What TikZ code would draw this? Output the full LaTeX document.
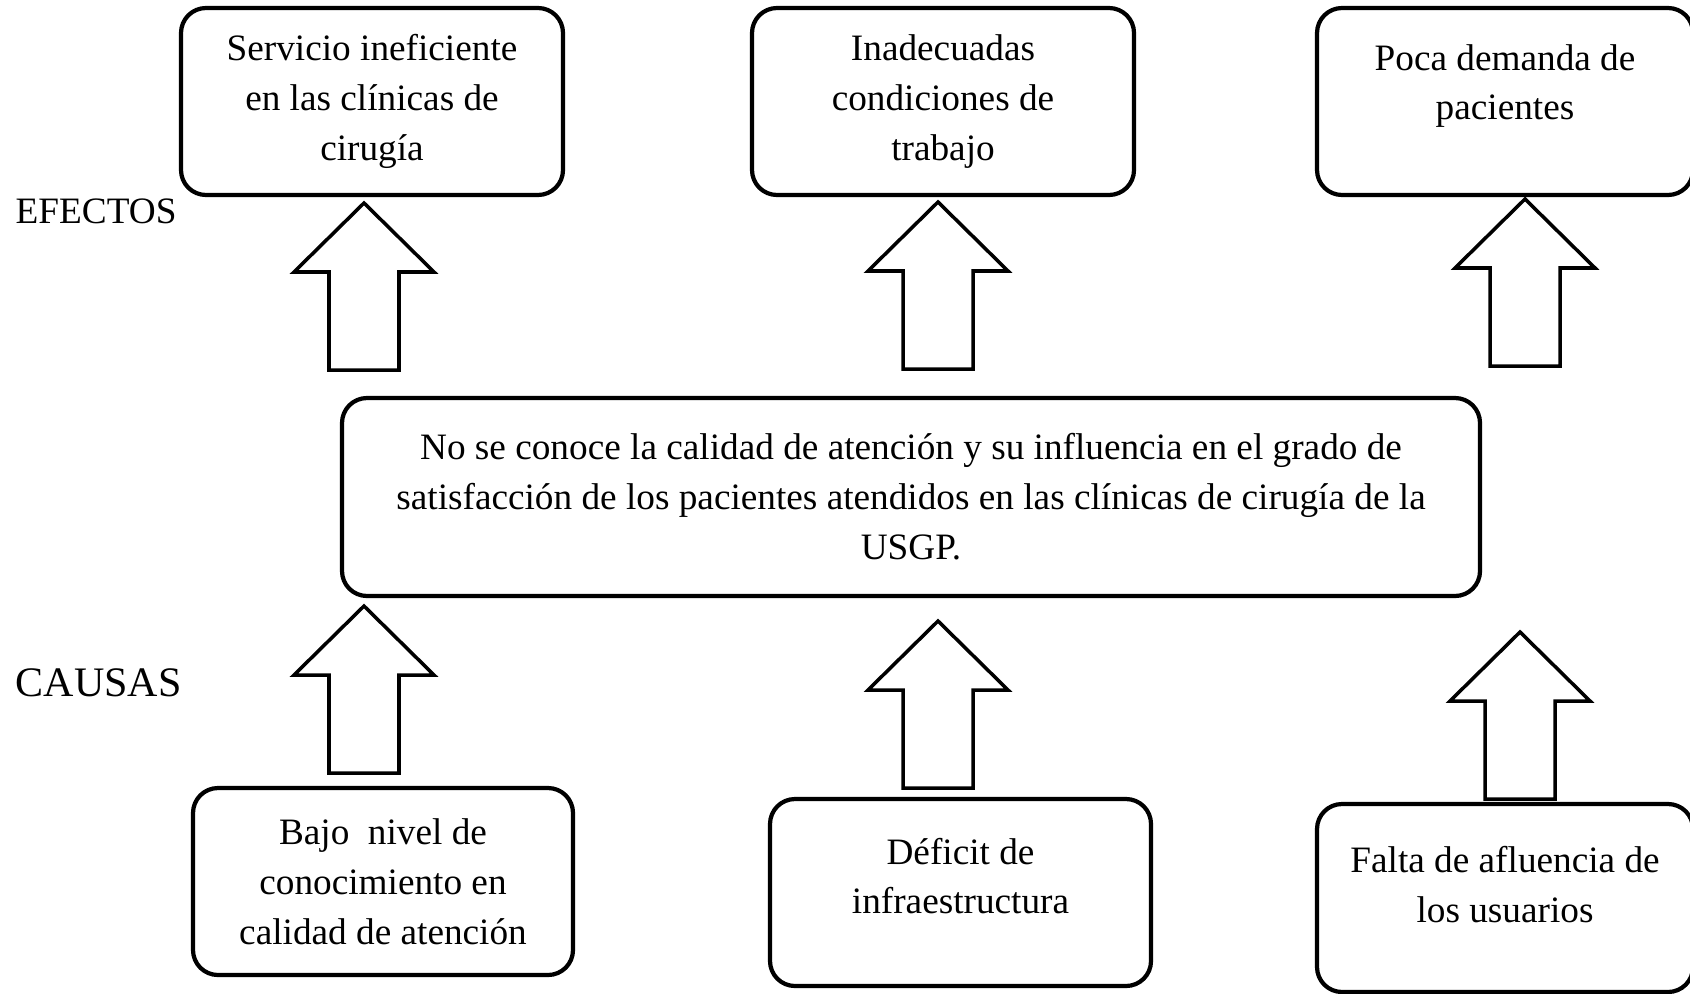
\documentclass[tikz,border=0pt]{standalone}
\usepackage{fontspec}
\setmainfont{Liberation Serif}
\tikzset{
    mybox/.style={draw, line width=1.2pt, rounded corners=0.25cm, minimum width=3.82cm, minimum height=1.87cm, align=center, font=\fontsize{10.6}{14.2}\selectfont},
    mytxt/.style={align=center, font=\fontsize{10.6}{14.2}\selectfont},
    mylab/.style={anchor=west, inner sep=0pt},
    myblk/.style={draw, line width=1pt, fill=white},
}
% block arrow pointing up, from its bottom centre
\newcommand{\blockup}[1]{\draw[myblk] ([xshift=-0.35cm]#1) -- ++(0,0.98) -- ++(-0.35,0) -- ++(0.7,0.69) -- ++(0.7,-0.69) -- ++(-0.35,0) -- ++(0,-0.98) -- cycle;}

\begin{document}
\begin{tikzpicture}
    \useasboundingbox (0,0) rectangle (16.90,-9.93);
 % EFECTOS
    \node (E1) at (3.72,-1.015) [mybox] {Servicio ineficiente\\ en las clínicas de\\ cirugía};
    \node (E2) at (9.43,-1.015) [mybox] {Inadecuadas\\ condiciones de\\ trabajo};
    \node (E3) at (15.05,-1.015) [mybox, minimum width=3.76cm, label={[mytxt, yshift=1.55mm]center:Poca demanda de\\ pacientes}] {};
    \node (EF) at (0.15,-2.11) [mylab, font=\fontsize{10.6}{12}\selectfont] {EFECTOS};

 % PROBLEMA
    \node (M) at (9.11,-4.97) [mybox, minimum width=11.38cm, minimum height=1.98cm] {No se conoce la calidad de atención y su influencia en el grado de\\ satisfacción de los pacientes atendidos en las clínicas de cirugía de la\\ USGP.};

 % CAUSAS
    \node (CA) at (0.15,-6.83) [mylab, font=\fontsize{11.95}{14}\selectfont] {CAUSAS};
    \node (C1) at (3.83,-8.815) [mybox, minimum width=3.80cm] {Bajo~ nivel de\\ conocimiento en\\ calidad de atención};
    \node (C2) at (9.605,-8.925) [mybox, minimum width=3.81cm, label={[mytxt, yshift=1.65mm]center:Déficit de\\ infraestructura}] {};
    \node (C3) at (15.05,-8.98) [mybox, minimum width=3.76cm, minimum height=1.88cm, label={[mytxt, yshift=1.35mm]center:Falta de afluencia de\\ los usuarios}] {};

     % ARROWS
    \coordinate (a1) at (3.64,-3.70);
    \coordinate (a2) at (9.38,-3.69);
    \coordinate (a3) at (15.25,-3.66);
    \coordinate (a4) at (3.64,-7.73);
    \coordinate (a5) at (9.38,-7.88);
    \coordinate (a6) at (15.20,-7.99);
    \foreach \a in {a1,a2,a3,a4,a5,a6}
        {\blockup{\a}}
\end{tikzpicture}
\end{document}
